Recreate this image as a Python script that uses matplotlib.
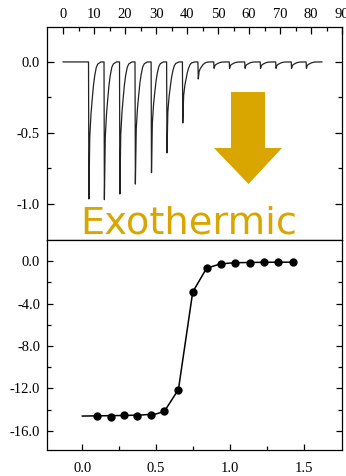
import numpy as np
import matplotlib
matplotlib.use("Agg")
import matplotlib.pyplot as plt
from matplotlib.patches import Polygon

# --- DATA ---
# raw thermogram: injection times (x, top axis) and peak depths
inj_time = [8.2, 13.2, 18.2, 23.2, 28.4, 33.4, 38.5, 43.5,
            48.6, 53.6, 58.6, 63.6, 68.6, 73.6, 78.4]
inj_depth = [-0.965, -0.97, -0.93, -0.86, -0.78, -0.64, -0.43, -0.12,
             -0.045, -0.045, -0.045, -0.045, -0.045, -0.045, -0.045]
# shape of one injection peak (time after injection, fraction of depth)
peak_dt = [0.0, 0.12, 0.4, 0.8, 1.2, 1.6, 2.0, 2.5, 3.0, 4.0]
peak_frac = [0.0, 1.0, 0.55, 0.38, 0.27, 0.17, 0.1, 0.04, 0.015, 0.0]
trace_start, trace_end = 0.0, 83.5

# integrated heats vs molar ratio
ratio = [0.099, 0.196, 0.284, 0.370, 0.466, 0.556, 0.651, 0.748,
         0.842, 0.937, 1.036, 1.133, 1.230, 1.328, 1.428]
heat = [-14.56, -14.71, -14.49, -14.59, -14.52, -14.09, -12.12, -2.92,
        -0.66, -0.25, -0.13, -0.13, -0.06, -0.09, -0.09]
fit_x = [0.0, 0.1, 0.2, 0.3, 0.4, 0.5, 0.556, 0.651, 0.748,
         0.842, 0.937, 1.036, 1.133, 1.230, 1.328, 1.428]
fit_y = [-14.6, -14.58, -14.56, -14.54, -14.5, -14.4, -14.15, -12.1, -2.9,
         -0.66, -0.25, -0.14, -0.12, -0.1, -0.09, -0.09]

GOLD = "#D9A600"
plt.rcParams['font.family'] = ['Liberation Serif', 'DejaVu Serif']
plt.rcParams['font.size'] = 10.5

# build the raw trace from the peak list
tx = [trace_start]
ty = [0.0]
for t0, d in zip(inj_time, inj_depth):
    for dt, f in zip(peak_dt, peak_frac):
        tx.append(t0 + dt)
        ty.append(d * f)
tx.append(trace_end)
ty.append(0.0)

W, H = 346, 476
fig = plt.figure(figsize=(W / 100, H / 100), dpi=100)

ax1 = fig.add_axes([47 / W, 1 - 240 / H, 295 / W, 213 / H])
ax2 = fig.add_axes([47 / W, 1 - 450 / H, 295 / W, 210 / H])

# --- TOP: raw data ---
ax1.plot(tx, ty, color="#222222", lw=0.9)
ax1.set_xlim(-5.2, 90)
ax1.set_ylim(-1.254, 0.246)
ax1.set_xticks(np.arange(0, 91, 10))
ax1.set_xticks(np.arange(0, 86, 5), minor=True)
ax1.set_yticks([0.0, -0.5, -1.0])
ax1.set_yticklabels(["0.0", "-0.5", "-1.0"])
ax1.set_yticks([-0.25, -0.75], minor=True)
ax1.xaxis.tick_top()
ax1.tick_params(axis='x', which='both', direction='in', top=True, bottom=False, pad=4)
ax1.tick_params(axis='y', which='both', direction='in', left=True, right=True, pad=5)
ax1.tick_params(which='major', length=5, width=0.9)
ax1.tick_params(which='minor', length=3, width=0.9)

# --- BOTTOM: integrated heats ---
ax2.plot(fit_x, fit_y, color="black", lw=1.1)
ax2.plot(ratio, heat, "o", color="black", ms=5)
ax2.set_xlim(-0.24, 1.76)
ax2.set_ylim(-17.8, 2.0)
ax2.set_xticks([0.0, 0.5, 1.0, 1.5])
ax2.set_xticks([0.25, 0.75, 1.25], minor=True)
ax2.set_yticks([0.0, -4.0, -8.0, -12.0, -16.0])
ax2.set_yticklabels(["0.0", "-4.0", "-8.0", "-12.0", "-16.0"])
ax2.set_yticks(np.arange(-16, 1, 2), minor=True)
ax2.tick_params(axis='x', which='both', direction='in', top=False, bottom=True, pad=9)
ax2.tick_params(axis='y', which='both', direction='in', left=True, right=True, pad=5)
ax2.tick_params(which='major', length=4, width=0.9)
ax2.tick_params(which='minor', length=3, width=0.9)

for ax in (ax1, ax2):
    for s in ax.spines.values():
        s.set_linewidth(0.9)

# --- arrow + label ---
arrow_px = [(231, 92), (265, 92), (265, 148), (282, 148), (248.5, 184),
            (214, 148), (231, 148)]
arrow = Polygon([(x / W, 1 - y / H) for x, y in arrow_px], closed=True,
                transform=fig.transFigure, facecolor=GOLD, edgecolor='none')
fig.patches.append(arrow)
fig.text(80 / W, 1 - 233 / H, "Exothermic", color=GOLD, fontsize=27.6,
         family=['DejaVu Sans'], va='baseline', ha='left')

fig.savefig("out.png", dpi=100)
